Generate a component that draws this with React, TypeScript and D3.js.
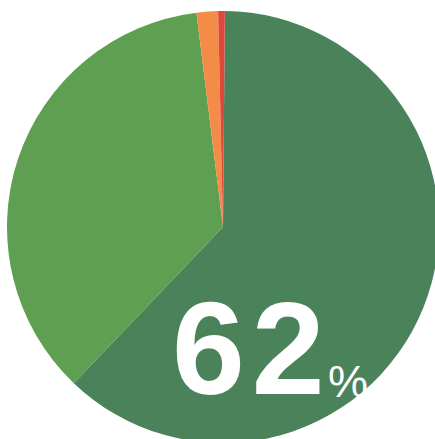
import React from "react";
import * as d3 from "d3";

const categories = ["A", "B", "C", "D"];
const values = [62, 35.9, 1.6, 0.5];
const colors = ["#4a825a", "#5f9f52", "#f28c47", "#e0463c"];
const labelDigits = ["6", "2"];
const labelUnit = "%";

export default function App() {
  const width = 435;
  const height = 439;
  const cx = 223;
  const cy = 227;
  const r = 216;
  const start = (0.5 * Math.PI) / 180;
  const pie = d3
    .pie<number>()
    .sort(null)
    .startAngle(start)
    .endAngle(start + 2 * Math.PI);
  const arcs = pie(values);
  const arc = d3.arc<d3.PieArcDatum<number>>().innerRadius(0).outerRadius(r);
  return (
    <svg
      width={width}
      height={height}
      style={{ position: "absolute", left: 0, top: 0, background: "#fff" }}
    >
      <g transform={`translate(${cx},${cy})`}>
        {arcs.map((a, i) => (
          <path key={categories[i]} d={arc(a) || ""} fill={colors[i]} />
        ))}
      </g>
      <text
        x={172}
        y={394}
        fill="#fff"
        fontFamily="Liberation Sans, Arial, sans-serif"
        fontWeight="bold"
        fontSize={131}
      >
        {labelDigits.map((d, i) => (
          <tspan key={i} dx={i === 0 ? 0 : 7}>
            {d}
          </tspan>
        ))}
      </text>
      <text
        x={328}
        y={397}
        fill="#fff"
        fontFamily="Liberation Sans, Arial, sans-serif"
        fontSize={45}
      >
        {labelUnit}
      </text>
    </svg>
  );
}
